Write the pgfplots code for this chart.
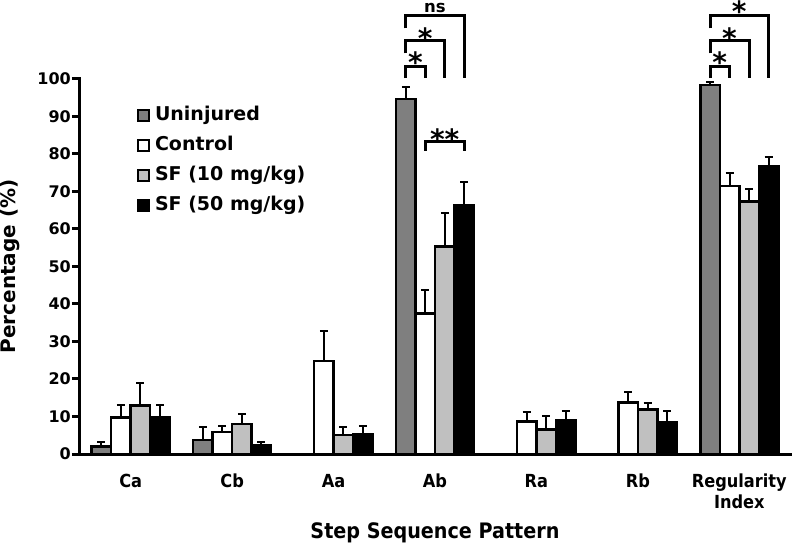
\documentclass[border=0pt]{standalone}
\usepackage{fontspec}
\setmainfont{DejaVu Sans}
\newfontfamily\cond{DejaVu Sans Condensed}
\usepackage{pgfplots}
\usepackage{pgfplotstable}
\pgfplotsset{compat=1.18}
\definecolor{unin}{HTML}{7F7F7F}
\definecolor{sften}{HTML}{C0C0C0}

\pgfplotstableread{
x y e
0 2.0 1.3
1 3.7 3.6
3 94.6 3.2
6 98.4 0.9
}\unintab
\pgfplotstableread{
x y e
0 9.8 3.3
1 5.9 1.7
2 24.8 8.1
3 37.5 6.2
4 8.7 2.6
5 13.7 2.9
6 71.5 3.5
}\ctrltab
\pgfplotstableread{
x y e
0 12.9 5.9
1 8.0 2.7
2 5.1 2.2
3 55.3 8.9
4 6.6 3.4
5 11.9 1.8
6 67.3 3.3
}\sfatab
\pgfplotstableread{
x y e
0 9.8 3.3
1 2.4 0.9
2 5.3 2.1
3 66.4 6.0
4 9.0 2.6
5 8.6 2.9
6 76.6 2.7
}\sfbtab

\begin{document}
\begin{tikzpicture}
\pgfplotsset{
  myleg/.style={legend image code/.code={\draw[##1, line width=1.6pt] (0pt,-5.5pt) rectangle (11pt,5.5pt);}},
  mybar/.style={draw=black, line width=2.5pt,
    error bars/.cd, y dir=plus, y explicit,
    error bar style={line width=2pt, black, solid},
    error mark options={rotate=90, mark size=4pt, line width=2pt, black},
    /pgfplots/.cd},
}
\begin{axis}[
  at={(0,0)}, anchor=south west,
  scale only axis, width=710pt, height=375pt,
  xmin=-0.5, xmax=6.5, ymin=0, ymax=100,
  axis x line*=bottom, axis y line*=left,
  axis line style={line width=3pt, black, line cap=rect},
  ybar=0pt, bar width=19.5pt,
  xtick={0,1,2,3,4,5,6},
  xticklabels={Ca,Cb,Aa,Ab,Ra,Rb,{Regularity\\Index}},
  x tick style={draw=none},
  ytick={0,10,...,100},
  tick align=outside,
  major tick length=8pt,
  y tick style={line width=3pt, black},
  /pgf/number format/assume math mode=true,
  yticklabel style={font=\bfseries\fontsize{16}{16}\selectfont, inner sep=1pt},
  xticklabel style={font=\cond\bfseries\fontsize{18}{21}\selectfont, align=center, anchor=north, inner sep=0pt, yshift=-12pt},
  xlabel={Step Sequence Pattern},
  ylabel={Percentage (\%)},
  xlabel style={at={(axis description cs:0.5,-0.224)}, anchor=base, font=\cond\bfseries\fontsize{21.3}{21.3}\selectfont},
  ylabel style={at={(axis description cs:-0.0986,0.5)}, anchor=center, font=\bfseries\fontsize{20}{20}\selectfont},
  legend style={at={(axis description cs:0.0806,0.9357)}, anchor=north west, draw=none, fill=none,
    inner sep=0pt, font=\bfseries\fontsize{19}{19}\selectfont,
    nodes={inner sep=2pt, text height=15pt, text depth=5pt}, row sep=6pt,
    /tikz/every odd column/.append style={column sep=3pt}},
  legend cell align=left,
  clip=false,
]
\addplot[fill=unin, myleg, mybar] table[x=x, y=y, y error=e] {\unintab};
\addplot[fill=white, myleg, mybar] table[x=x, y=y, y error=e] {\ctrltab};
\addplot[fill=sften, myleg, mybar] table[x=x, y=y, y error=e] {\sfatab};
\addplot[fill=black, myleg, mybar] table[x=x, y=y, y error=e] {\sfbtab};
\legend{Uninjured, Control, SF (10 mg/kg), SF (50 mg/kg)}

% significance brackets, Ab
\begin{scope}[line width=3pt, black]
\draw (axis cs:2.712,100.2) -- (axis cs:2.712,103.3) -- (axis cs:2.904,103.3) -- (axis cs:2.904,100.2);
\draw (axis cs:2.712,106.8) -- (axis cs:2.712,110.2) -- (axis cs:3.096,110.2) -- (axis cs:3.096,100.2);
\draw (axis cs:2.712,113.5) -- (axis cs:2.712,116.9) -- (axis cs:3.288,116.9) -- (axis cs:3.288,100.2);
\draw (axis cs:2.904,80.9) -- (axis cs:2.904,83.3) -- (axis cs:3.288,83.3) -- (axis cs:3.288,80.9);
% Regularity index
\draw (axis cs:5.712,100.2) -- (axis cs:5.712,103.3) -- (axis cs:5.904,103.3) -- (axis cs:5.904,100.2);
\draw (axis cs:5.712,106.8) -- (axis cs:5.712,110.2) -- (axis cs:6.096,110.2) -- (axis cs:6.096,100.2);
\draw (axis cs:5.712,113.5) -- (axis cs:5.712,116.9) -- (axis cs:6.288,116.9) -- (axis cs:6.288,100.2);
\end{scope}
\begin{scope}[every node/.style={anchor=north, inner sep=0pt, font=\bfseries\fontsize{28}{28}\selectfont}]
\node at (axis cs:2.808,107.2) {*};
\node at (axis cs:2.904,113.6) {*};
\node at (axis cs:3.096,86.9) {**};
\node[font=\bfseries\fontsize{16.5}{16.5}\selectfont] at (axis cs:3.0,120.3) {ns};
\node at (axis cs:5.808,107.2) {*};
\node at (axis cs:5.904,113.6) {*};
\node at (axis cs:6.0,121.0) {*};
\end{scope}
\end{axis}
\pgfresetboundingbox
\path[use as bounding box] (-80pt,-89pt) rectangle (712pt,454pt);
\end{tikzpicture}
\end{document}
